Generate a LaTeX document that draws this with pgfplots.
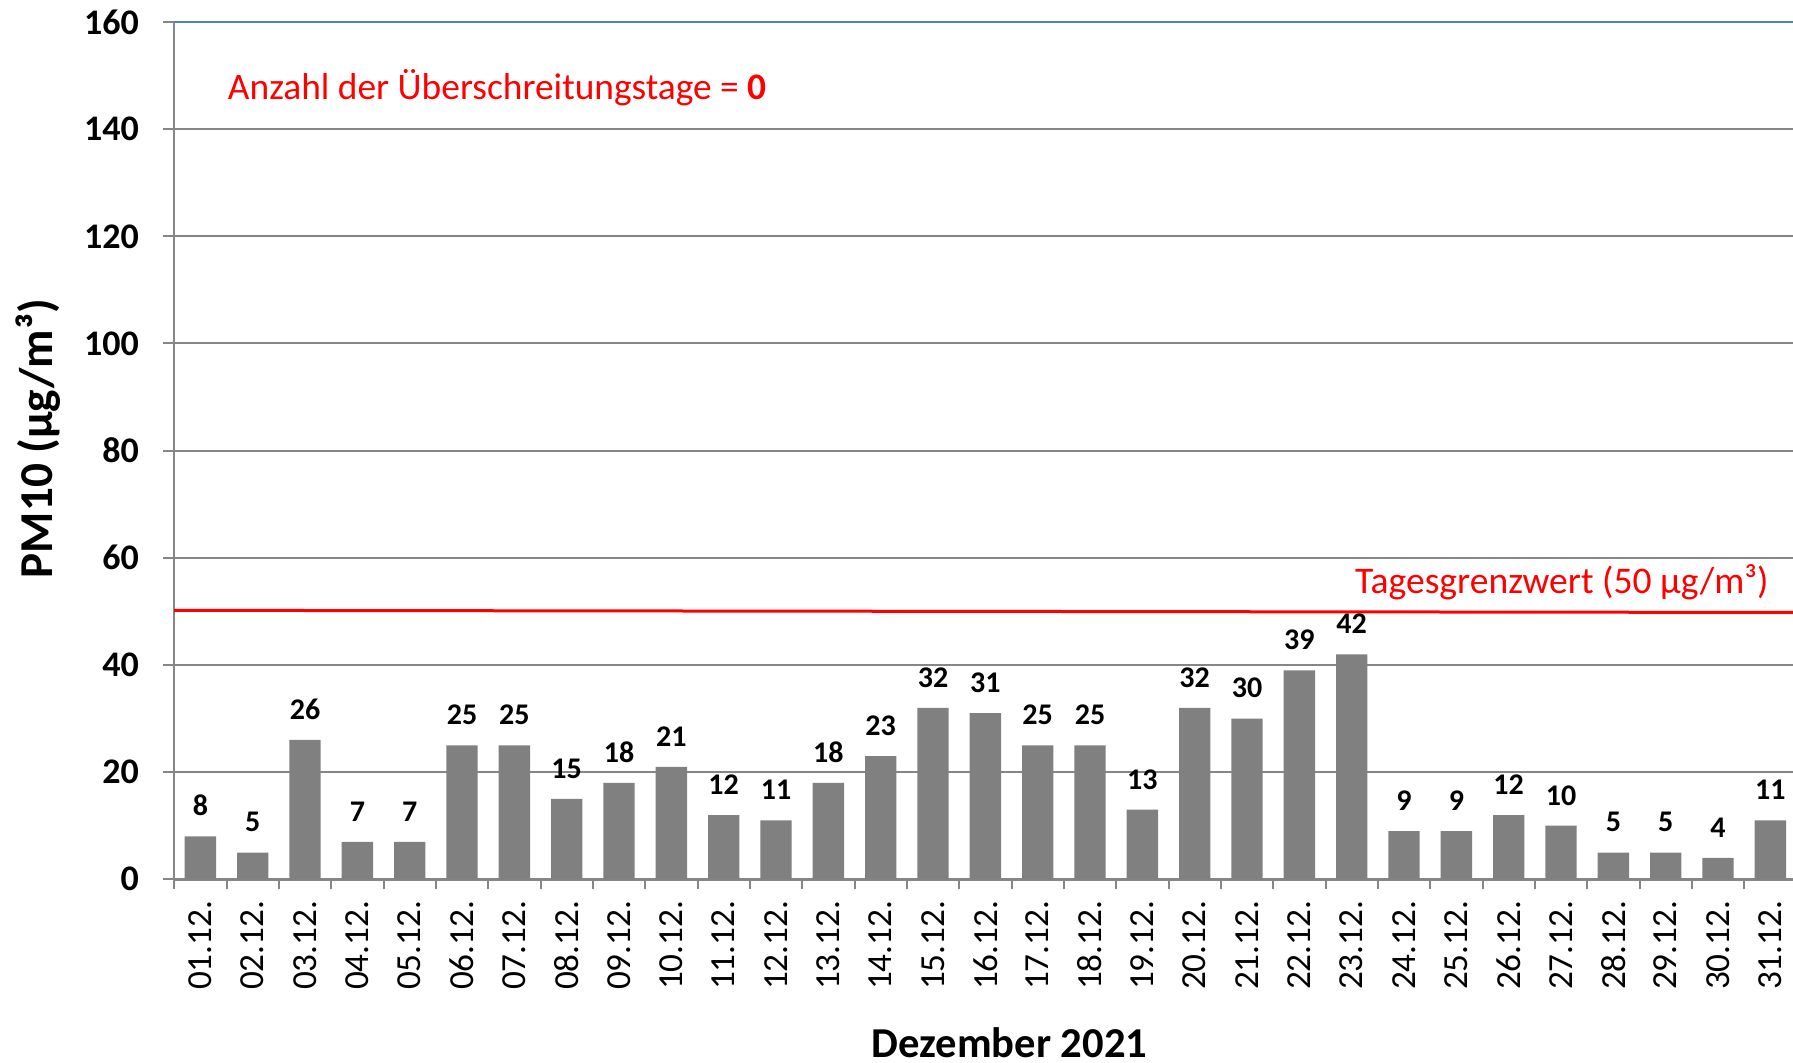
\documentclass[border=0pt]{standalone}
\usepackage{pgfplots}
\pgfplotsset{compat=1.18}
\usepackage{fontspec}
\setmainfont{Carlito}
\definecolor{gridgray}{RGB}{134,134,134}
\definecolor{bargray}{RGB}{128,128,128}
\definecolor{topblue}{RGB}{79,129,189}
\begin{document}
\begin{tikzpicture}
\path[use as bounding box] (0,0) rectangle (896.5pt,531pt);
\clip (0,0) rectangle (896.5pt,531pt);
\begin{axis}[
  at={(87.1pt,91.35pt)}, anchor=south west,
  scale only axis, width=811.15pt, height=428.65pt,
  xmin=0.5, xmax=31.5, ymin=0, ymax=160,
  axis x line=bottom, axis y line=left,
  axis line style={-, draw=gridgray, line width=1.2pt},
  ytick={0,20,...,160},
  ymajorgrids, grid style={draw=gridgray, line width=1pt},
  tick align=outside,
  major tick length=5.5pt,
  ytick style={draw=gridgray, line width=1pt},
  xtick={1,...,31},
  xticklabels={01.12.,02.12.,03.12.,04.12.,05.12.,06.12.,07.12.,08.12.,09.12.,10.12.,11.12.,12.12.,13.12.,14.12.,15.12.,16.12.,17.12.,18.12.,19.12.,20.12.,21.12.,22.12.,23.12.,24.12.,25.12.,26.12.,27.12.,28.12.,29.12.,30.12.,31.12.},
  xtick style={draw=none},
  minor xtick={0.5,1.5,...,31.5},
  minor tick length=5pt,
  minor x tick style={draw=gridgray, line width=1pt},
  xticklabel style={rotate=90, anchor=east, font=\fontsize{17.6}{20}\selectfont, xshift=-1.7pt},
  yticklabel style={font=\fontsize{18}{21}\selectfont\bfseries, xshift=-8.6pt},
  /pgf/number format/assume math mode=true,
  ylabel={PM10 (µg/m³)},
  ylabel style={at={(axis description cs:-0.0838,0.514)}, anchor=center, inner sep=0pt, font=\fontsize{23.6}{28}\selectfont\bfseries},
  xlabel={Dezember 2021},
  xlabel style={at={(axis description cs:0.515,-0.191)}, anchor=center, inner sep=0pt, font=\fontsize{21.3}{25}\selectfont\bfseries},
  ybar, bar width=15.65pt,
  nodes near coords,
  nodes near coords style={anchor=south, inner sep=0pt, yshift=10pt, font=\fontsize{15}{18}\selectfont\bfseries, text=black},
  clip=false,
]
\addplot[fill=bargray, draw=none] coordinates {
(1,8) (2,5) (3,26) (4,7) (5,7) (6,25) (7,25) (8,15) (9,18) (10,21)
(11,12) (12,11) (13,18) (14,23) (15,32) (16,31) (17,25) (18,25) (19,13) (20,32)
(21,30) (22,39) (23,42) (24,9) (25,9) (26,12) (27,10) (28,5) (29,5) (30,4) (31,11)
};
\draw[topblue, line width=1.2pt] (axis cs:0.5,160) -- (axis cs:31.5,160);
\draw[red, line width=1.5pt] (axis cs:0.5,50.2) -- (axis cs:31.5,49.8);
\node[anchor=base west, text=red, font=\fontsize{18.7}{22}\selectfont, inner sep=0pt] at (axis cs:1.52,145.6) {Anzahl der Überschreitungstage = \textbf{0}};
\node[anchor=base west, text=red, font=\fontsize{18.8}{22}\selectfont, inner sep=0pt] at (axis cs:23.06,53.4) {Tagesgrenzwert (50 µg/m³)};
\end{axis}
\end{tikzpicture}
\end{document}
